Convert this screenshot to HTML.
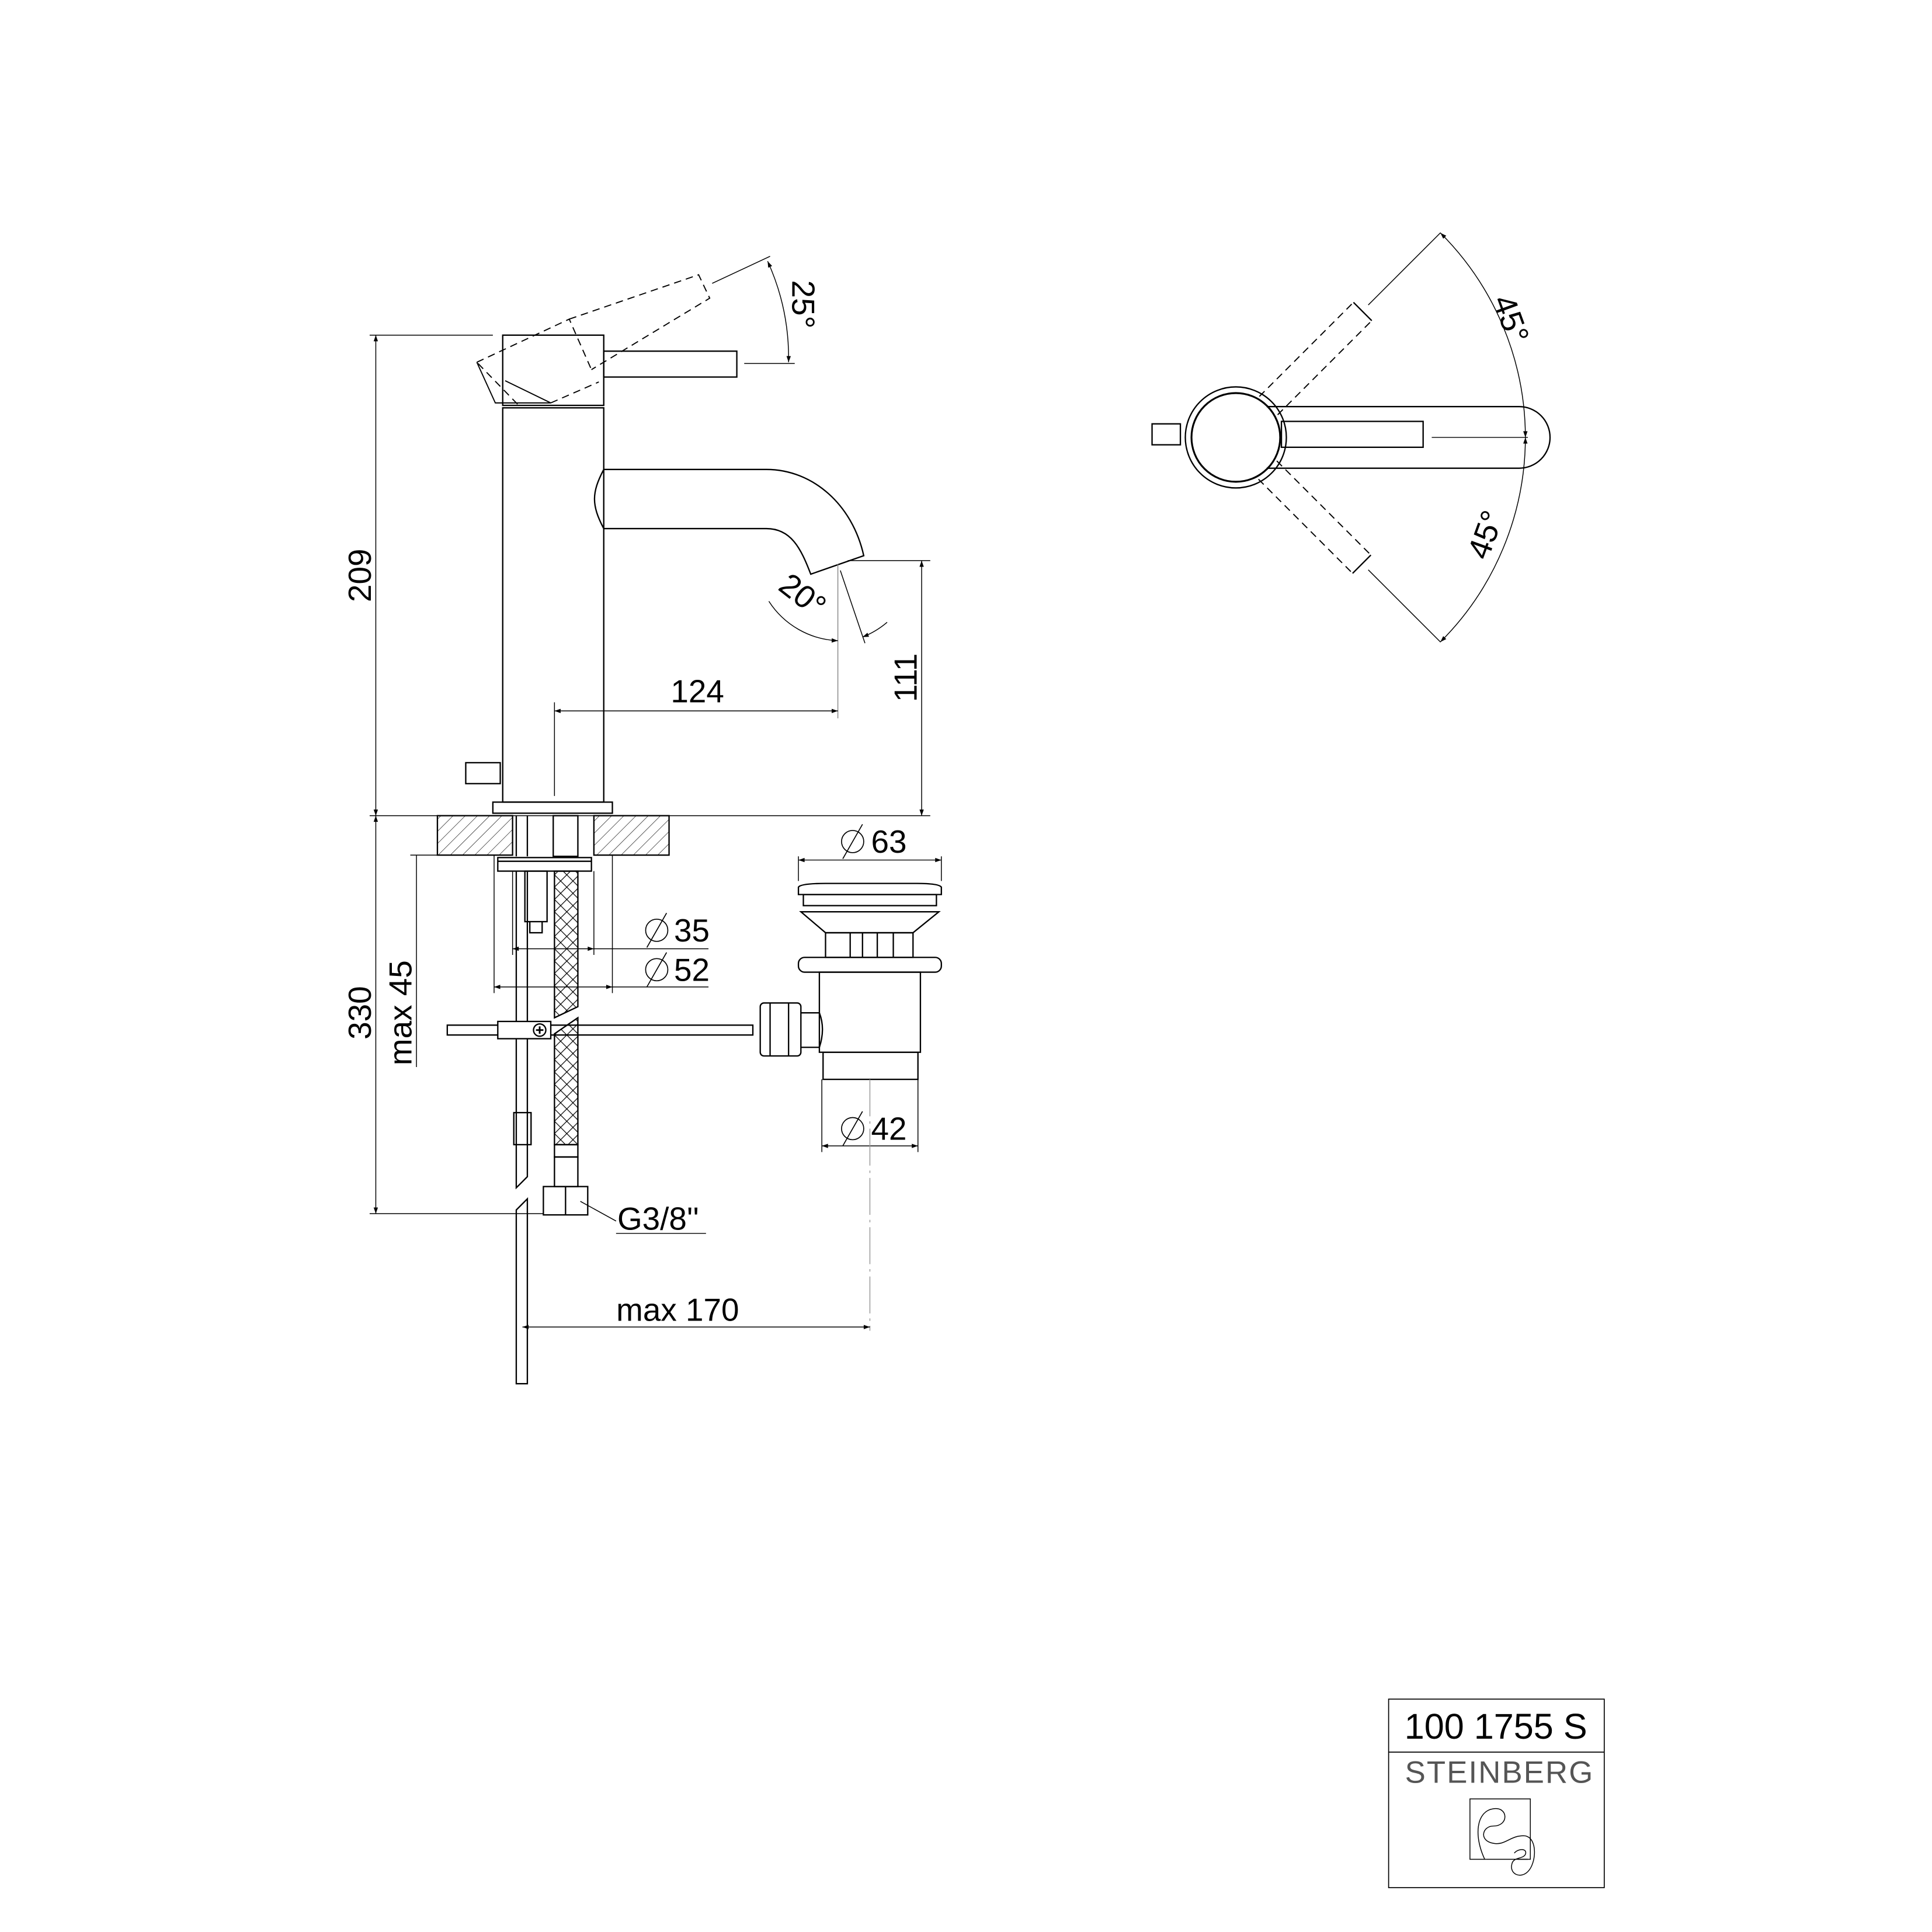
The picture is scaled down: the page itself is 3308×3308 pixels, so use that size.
<!DOCTYPE html>
<html><head><meta charset="utf-8"><style>html,body{margin:0;padding:0;background:#fff}svg{display:block}</style></head><body>
<svg width="3308" height="3308" viewBox="0 0 1568 1568" xmlns="http://www.w3.org/2000/svg" font-family="'Liberation Sans', sans-serif">
<defs>
<marker id="a" viewBox="0 0 10 10" refX="10" refY="5" markerWidth="14" markerHeight="5" markerUnits="userSpaceOnUse" orient="auto-start-reverse"><path d="M0,1.5 L10,5 L0,8.5 z" fill="#000"/></marker>
<pattern id="h" patternUnits="userSpaceOnUse" width="7" height="7" patternTransform="rotate(45)"><line x1="0" y1="0" x2="0" y2="7" stroke="#000" stroke-width="0.6"/></pattern>
<pattern id="br" patternUnits="userSpaceOnUse" width="10" height="10"><path d="M0,0 L10,10 M10,0 L0,10" stroke="#000" stroke-width="0.6"/></pattern>
</defs>
<g fill="none" stroke="#000" stroke-width="1.1">
<line x1="300" y1="272" x2="400" y2="272" stroke-width="0.7"/>
<line x1="305" y1="272" x2="305" y2="662" stroke-width="0.7" marker-start="url(#a)" marker-end="url(#a)"/>
<rect x="408" y="272" width="82" height="57"/>
<rect x="408" y="331" width="82" height="320"/>
<rect x="490" y="285" width="108" height="21"/>
<g stroke-dasharray="6,4" stroke-width="0.9">
<path d="M387,294 L462,259 L480,300 M420,328 L387,294"/>
<path d="M462,259 L567,223 L576,242 L480,300"/>
<path d="M447,327 L486,310"/>
</g>
<path d="M387,294 L402,327 L447,327 L410,309" stroke-width="0.9"/>
<line x1="578" y1="230" x2="625" y2="208" stroke-width="0.7"/>
<line x1="604" y1="295" x2="645" y2="295" stroke-width="0.7"/>
<path d="M623,212 A190,190 0 0 1 640,294" stroke-width="0.7" marker-start="url(#a)" marker-end="url(#a)"/>
<path d="M490,381 L622,381 C660,381 692,410 701,451 L658,466 C650,445 642,429 622,429 L490,429 C480,410 480,400 490,381 Z"/>
<line x1="680" y1="458" x2="680" y2="583" stroke="#888" stroke-width="0.7"/>
<line x1="682" y1="463" x2="702" y2="522" stroke-width="0.7"/>
<path d="M624,488 A70,70 0 0 0 680,520" stroke-width="0.7" marker-end="url(#a)"/>
<path d="M720,505 A70,70 0 0 1 700,517" stroke-width="0.7" marker-end="url(#a)"/>
<line x1="688" y1="455" x2="755" y2="455" stroke-width="0.7"/>
<line x1="748" y1="455" x2="748" y2="662" stroke-width="0.7" marker-start="url(#a)" marker-end="url(#a)"/>
<line x1="450" y1="570" x2="450" y2="646" stroke-width="0.7"/>
<line x1="450" y1="577" x2="680" y2="577" stroke-width="0.7" marker-start="url(#a)" marker-end="url(#a)"/>
<rect x="378" y="619" width="28" height="17"/>
<rect x="400" y="651" width="97" height="9"/>
<line x1="300" y1="662" x2="755" y2="662" stroke-width="0.7"/>
<rect x="355" y="662" width="61" height="32" fill="url(#h)"/>
<rect x="482" y="662" width="61" height="32" fill="url(#h)"/>
<line x1="419" y1="662" x2="419" y2="695"/><line x1="428" y1="662" x2="428" y2="695"/>
<rect x="449" y="662" width="20" height="33"/>
<line x1="401" y1="694" x2="401" y2="806" stroke-width="0.7"/>
<line x1="497" y1="694" x2="497" y2="806" stroke-width="0.7"/>
<line x1="416" y1="707" x2="416" y2="775" stroke-width="0.7"/>
<line x1="482" y1="707" x2="482" y2="775" stroke-width="0.7"/>
<rect x="404" y="696" width="76" height="11"/>
<line x1="404" y1="699" x2="480" y2="699"/>
<rect x="426" y="707" width="18" height="41"/>
<path d="M430,748 L430,757 L440,757 L440,748"/>
<path d="M450,707 L469,707 L469,817 L450,826 Z" fill="url(#br)"/>
<path d="M450,839 L469,826 L469,929 L450,929 Z" fill="url(#br)"/>
<rect x="450" y="929" width="19" height="10"/>
<rect x="450" y="939" width="19" height="24"/>
<rect x="441" y="963" width="36" height="23"/>
<line x1="459" y1="963" x2="459" y2="986"/>
<path d="M419,707 L419,964 L428,955 L428,707"/>
<path d="M419,982 L428,973 L428,1123 L419,1123 Z"/>
<rect x="417" y="903" width="14" height="26"/>
<rect x="363" y="832" width="248" height="8"/>
<rect x="404" y="829" width="43" height="14" fill="#fff"/>
<circle cx="438" cy="836" r="5" fill="#fff"/>
<path d="M435,836 L441,836 M438,833 L438,839" stroke-width="1.4"/>
<path d="M648,720 Q650,717 670,717 L744,717 Q762,717 764,720 L764,726 L648,726 Z"/>
<rect x="652" y="726" width="108" height="9"/>
<path d="M650,740 L762,740 L741,757 L670,757 Z"/>
<rect x="670" y="757" width="71" height="20"/>
<line x1="690" y1="757" x2="690" y2="777"/><line x1="700" y1="757" x2="700" y2="777"/><line x1="712" y1="757" x2="712" y2="777"/><line x1="725" y1="757" x2="725" y2="777"/>
<rect x="648" y="777" width="116" height="12" rx="5"/>
<rect x="665" y="789" width="82" height="65"/>
<rect x="668" y="854" width="77" height="22"/>
<rect x="617" y="814" width="33" height="43" rx="3"/>
<line x1="625" y1="814" x2="625" y2="857"/><line x1="640" y1="814" x2="640" y2="857"/>
<path d="M650,822 L665,822 Q670,835 665,850 L650,850"/>
<line x1="648" y1="695" x2="648" y2="715" stroke-width="0.7"/><line x1="764" y1="695" x2="764" y2="715" stroke-width="0.7"/>
<line x1="648" y1="698" x2="764" y2="698" stroke-width="0.7" marker-start="url(#a)" marker-end="url(#a)"/>
<line x1="416" y1="770" x2="482" y2="770" stroke-width="0.7" marker-start="url(#a)" marker-end="url(#a)"/>
<line x1="482" y1="770" x2="575" y2="770" stroke-width="0.7"/>
<line x1="401" y1="801" x2="497" y2="801" stroke-width="0.7" marker-start="url(#a)" marker-end="url(#a)"/>
<line x1="497" y1="801" x2="575" y2="801" stroke-width="0.7"/>
<line x1="667" y1="876" x2="667" y2="935" stroke-width="0.7"/><line x1="745" y1="876" x2="745" y2="935" stroke-width="0.7"/>
<line x1="667" y1="930" x2="745" y2="930" stroke-width="0.7" marker-start="url(#a)" marker-end="url(#a)"/>
<line x1="706" y1="876" x2="706" y2="1080" stroke="#999" stroke-width="0.7" stroke-dasharray="30,4,2,4"/>
<line x1="424" y1="1077" x2="706" y2="1077" stroke-width="0.7" marker-start="url(#a)" marker-end="url(#a)"/>
<line x1="471" y1="975" x2="500" y2="991" stroke-width="0.7"/>
<line x1="500" y1="1001" x2="573" y2="1001" stroke-width="0.7"/>
<line x1="333" y1="694" x2="355" y2="694" stroke-width="0.7"/>
<line x1="338" y1="694" x2="338" y2="866" stroke-width="0.7"/>
<line x1="300" y1="985" x2="441" y2="985" stroke-width="0.7"/>
<line x1="305" y1="662" x2="305" y2="985" stroke-width="0.7" marker-start="url(#a)" marker-end="url(#a)"/>
<circle cx="1003" cy="355" r="41"/>
<circle cx="1003" cy="355" r="36" stroke-width="1.5"/>
<rect x="935" y="344" width="23" height="17"/>
<path d="M1028,330 L1233,330 A25,25 0 0 1 1233,380 L1028,380"/>
<rect x="1040" y="342" width="115" height="21"/>
<line x1="1162" y1="355" x2="1240" y2="355" stroke-width="0.7"/>
<g transform="rotate(-45 1003 355)">
<g stroke-dasharray="6,4" stroke-width="0.9"><line x1="1040" y1="345" x2="1148" y2="345"/><line x1="1040" y1="366" x2="1148" y2="366"/></g>
<line x1="1148" y1="345" x2="1148" y2="366"/>
<line x1="1155" y1="355" x2="1238" y2="355" stroke-width="0.7"/>
</g>
<g transform="rotate(45 1003 355)">
<g stroke-dasharray="6,4" stroke-width="0.9"><line x1="1040" y1="345" x2="1148" y2="345"/><line x1="1040" y1="366" x2="1148" y2="366"/></g>
<line x1="1148" y1="345" x2="1148" y2="366"/>
<line x1="1155" y1="355" x2="1238" y2="355" stroke-width="0.7"/>
</g>
<path d="M1169,189 A235,235 0 0 1 1238,355" stroke-width="0.7" marker-start="url(#a)" marker-end="url(#a)"/>
<path d="M1238,355 A235,235 0 0 1 1169,521" stroke-width="0.7" marker-start="url(#a)" marker-end="url(#a)"/>
<rect x="1127" y="1379" width="175" height="153" stroke-width="0.8"/>
<line x1="1127" y1="1422" x2="1302" y2="1422" stroke-width="0.8"/>
<path d="M1206,1509 L1193,1509 L1193,1460 L1242,1460 L1242,1509 L1232,1509" stroke-width="0.7"/>
<path d="M1205,1509 C1196,1490 1198,1470 1212,1468 C1224,1466 1225,1482 1212,1482 C1203,1482 1200,1494 1212,1496 C1222,1498 1226,1489 1238,1490 C1248,1492 1247,1512 1240,1519 C1234,1525 1225,1521 1227,1513 C1228,1507 1236,1509 1238,1505 C1240,1500 1232,1500 1229,1504" stroke-width="0.7"/>
<line x1="1206" y1="1509" x2="1240" y2="1509" stroke-width="0.7"/>
</g>
<g fill="#000" font-size="26">
<text transform="translate(301,467) rotate(-90)" text-anchor="middle">209</text>
<text transform="translate(301,822) rotate(-90)" text-anchor="middle">330</text>
<text transform="translate(334,822) rotate(-90)" text-anchor="middle">max 45</text>
<text transform="translate(744,550) rotate(-90)" text-anchor="middle">111</text>
<text transform="translate(643,247) rotate(90)" text-anchor="middle">25°</text>
<text transform="translate(646,490) rotate(38)" text-anchor="middle">20°</text>
<text transform="translate(1218,262) rotate(70)" text-anchor="middle">45°</text>
<text transform="translate(1214,437) rotate(-70)" text-anchor="middle">45°</text>
<text x="566" y="570" text-anchor="middle">124</text>
<text x="707" y="692">63</text>
<text x="547" y="764">35</text>
<text x="547" y="796">52</text>
<text x="707" y="925">42</text>
<text x="550" y="1072" text-anchor="middle">max 170</text>
<text x="501" y="998">G3/8''</text>
<text x="1214" y="1411" text-anchor="middle" font-size="29">100 1755 S</text>
<text x="1217" y="1447" text-anchor="middle" font-size="25" fill="#555" letter-spacing="1">STEINBERG</text>
</g>
<g fill="none" stroke="#000" stroke-width="0.8">
<circle cx="692" cy="683" r="9"/><line x1="684" y1="697" x2="700" y2="669"/>
<circle cx="533" cy="755" r="9"/><line x1="525" y1="769" x2="541" y2="741"/>
<circle cx="533" cy="787" r="9"/><line x1="525" y1="801" x2="541" y2="773"/>
<circle cx="692" cy="916" r="9"/><line x1="684" y1="930" x2="700" y2="902"/>
</g>
</svg>
</body></html>
